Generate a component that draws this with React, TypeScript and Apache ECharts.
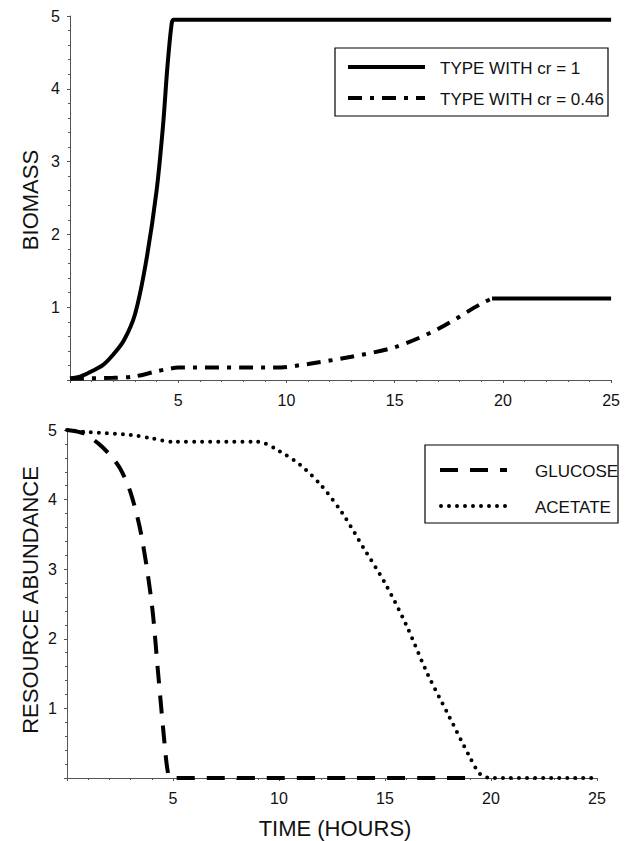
import React, { useEffect, useRef } from "react";
import * as echarts from "echarts";

const fastT = [0, 0.5, 1, 1.5, 2, 2.5, 3, 3.5, 4, 4.3, 4.5, 4.7, 4.8, 25];
const fastB = [0.02, 0.05, 0.12, 0.2, 0.35, 0.55, 0.9, 1.6, 2.6, 3.5, 4.3, 4.9, 4.95, 4.95];
const slowT = [0, 2, 3, 4, 4.5, 5, 9.5, 11, 13, 15, 17, 19, 19.5];
const slowB = [0.02, 0.03, 0.05, 0.12, 0.15, 0.17, 0.17, 0.22, 0.32, 0.45, 0.7, 1.05, 1.12];
const slowTailT = [19.5, 25];
const slowTailB = [1.12, 1.12];
const gluT = [0, 0.8, 1.5, 2, 2.5, 3, 3.5, 4, 4.3, 4.6, 4.75, 4.9, 19.3];
const gluR = [5, 4.95, 4.8, 4.65, 4.45, 4.1, 3.5, 2.5, 1.5, 0.5, 0.1, 0, 0];
const aceT = [0, 1, 3, 4, 5, 9, 10, 11, 12, 13, 14, 15, 16, 17, 18, 19, 19.5, 20, 25];
const aceR = [5, 4.97, 4.93, 4.88, 4.83, 4.83, 4.7, 4.5, 4.2, 3.8, 3.3, 2.8, 2.2, 1.5, 0.9, 0.3, 0.05, 0, 0];
const xTicks = [5, 10, 15, 20, 25];

const zip = (a: number[], b: number[]) => a.map((t, i) => [t, b[i]]);
const font = "Liberation Sans, Arial, sans-serif";

const App: React.FC = () => {
  const ref = useRef<HTMLDivElement | null>(null);

  useEffect(() => {
    if (!ref.current) return;
    const chart = echarts.init(ref.current, null, { renderer: "svg" });
    const xAxis = (gi: number) => ({
      type: "value",
      gridIndex: gi,
      min: 0,
      max: 25,
      interval: 5,
      axisLine: { lineStyle: { color: "#555", width: 1 } },
      axisTick: { show: true, length: 3, inside: false, lineStyle: { color: "#555" } },
      minorTick: { show: true, splitNumber: 5, length: 2, lineStyle: { color: "#555" } },
      splitLine: { show: false },
      axisLabel: {
        color: "#111",
        fontSize: 16,
        fontFamily: font,
        margin: 12,
        formatter: (v: number) => (xTicks.includes(v) ? String(v) : ""),
      },
    });
    const yAxis = (gi: number) => ({
      type: "value",
      gridIndex: gi,
      min: 0,
      max: 5,
      interval: 1,
      axisLine: { show: true, lineStyle: { color: "#555", width: 1 } },
      axisTick: { show: true, length: 3, lineStyle: { color: "#555" } },
      minorTick: { show: true, splitNumber: 5, length: 2, lineStyle: { color: "#555" } },
      splitLine: { show: false },
      axisLabel: {
        color: "#111",
        fontSize: 16,
        fontFamily: font,
        margin: 10,
        formatter: (v: number) => (v === 0 ? "" : String(v)),
      },
    });
    const line = (gi: number, data: number[][], type: any, width = 4, cap = "butt") => ({
      type: "line",
      xAxisIndex: gi,
      yAxisIndex: gi,
      data,
      showSymbol: false,
      smooth: 0.3,
      lineStyle: { color: "#000", width, type, cap },
    });
    const legendText = (x: number, y: number, text: string) => ({
      type: "text",
      x,
      y,
      style: { text, fill: "#111", font: `17px ${font}`, verticalAlign: "middle" },
    });
    const option = {
      animation: false,
      grid: [
        { left: 62, top: 7, width: 547, height: 365 },
        { left: 59, top: 422, width: 530, height: 348 },
      ],
      xAxis: [xAxis(0), xAxis(1)],
      yAxis: [yAxis(0), yAxis(1)],
      series: [
        line(0, zip(fastT, fastB), "solid"),
        line(0, zip(slowT, slowB), [14, 8, 4, 8]),
        line(0, zip(slowTailT, slowTailB), "solid"),
        line(1, zip(gluT, gluR), [18, 12]),
        line(1, zip(aceT, aceR), [0, 8], 4, "round"),
      ],
      graphic: [
        { type: "text", x: 22, y: 192, rotation: Math.PI / 2, style: { text: "BIOMASS", font: `22px ${font}`, fill: "#111", align: "center", verticalAlign: "middle" } },
        { type: "text", x: 22, y: 592, rotation: Math.PI / 2, style: { text: "RESOURCE ABUNDANCE", font: `22px ${font}`, fill: "#111", align: "center", verticalAlign: "middle" } },
        { type: "text", x: 327, y: 820, style: { text: "TIME (HOURS)", font: `22px ${font}`, fill: "#111", align: "center", verticalAlign: "middle" } },
        { type: "rect", shape: { x: 327, y: 40, width: 273, height: 68 }, style: { fill: "#fff", stroke: "#000", lineWidth: 1.2 } },
        { type: "line", shape: { x1: 340, y1: 59, x2: 417, y2: 59 }, style: { stroke: "#000", lineWidth: 4 } },
        { type: "line", shape: { x1: 340, y1: 90, x2: 417, y2: 90 }, style: { stroke: "#000", lineWidth: 4, lineDash: [14, 8, 4, 8] } },
        legendText(432, 60, "TYPE WITH cr = 1"),
        legendText(432, 91, "TYPE WITH cr = 0.46"),
        { type: "rect", shape: { x: 417, y: 437, width: 193, height: 78 }, style: { fill: "#fff", stroke: "#000", lineWidth: 1.2 } },
        { type: "line", shape: { x1: 432, y1: 462, x2: 499, y2: 462 }, style: { stroke: "#000", lineWidth: 4, lineDash: [18, 12] } },
        { type: "line", shape: { x1: 433, y1: 498, x2: 499, y2: 498 }, style: { stroke: "#000", lineWidth: 4, lineDash: [0, 8], lineCap: "round" } },
        legendText(527, 463, "GLUCOSE"),
        legendText(527, 499, "ACETATE"),
      ],
    };
    chart.setOption(option as any);
    return () => chart.dispose();
  }, []);

  return <div ref={ref} style={{ width: 615, height: 833 }} />;
};

export default App;
